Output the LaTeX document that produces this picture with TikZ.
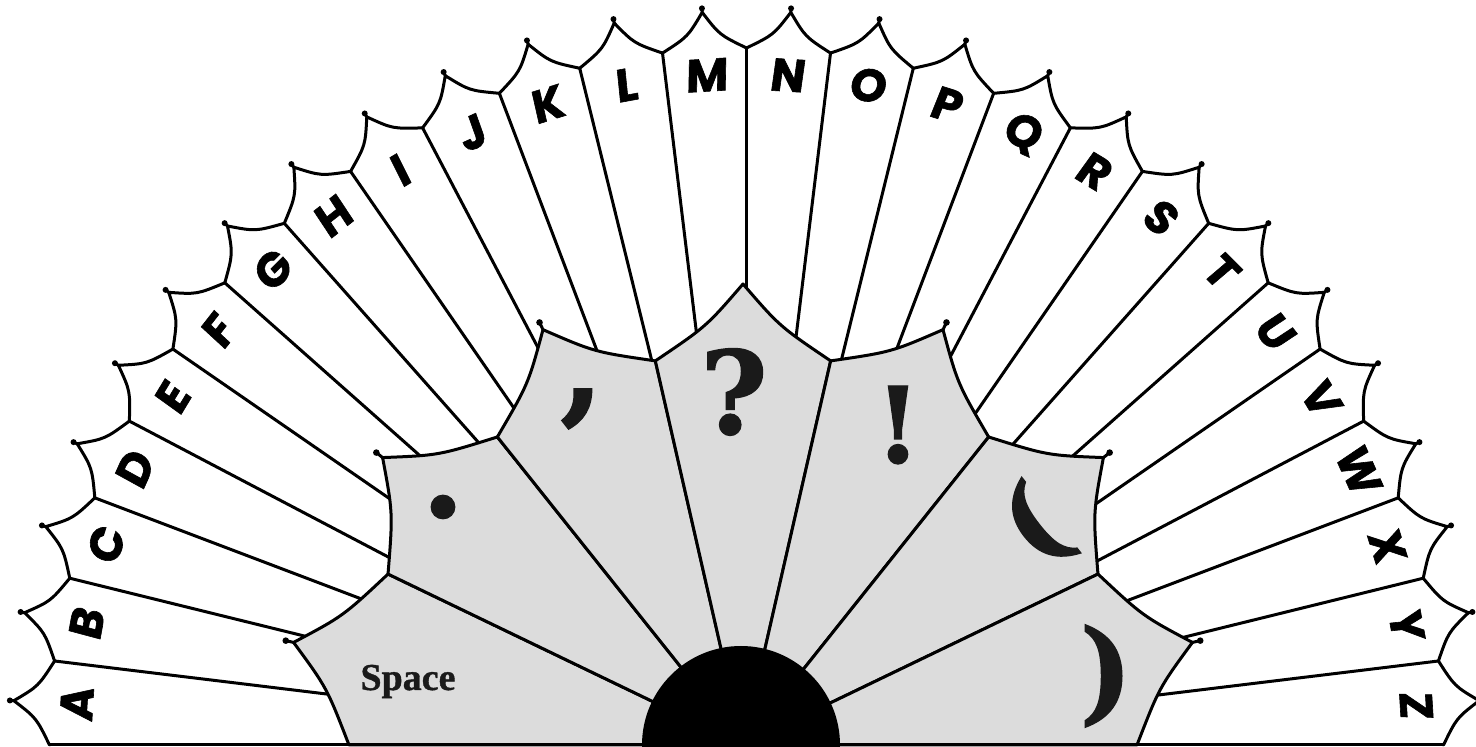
\documentclass[tikz,border=0pt]{standalone}
\usepackage{fontspec}
\newfontfamily\letterfont[FakeSlant=0.08, BoldFeatures={FakeBold=1.3}]{Poppins}
\newfontfamily\punctfont[BoldFeatures={FakeBold=1.2}]{DejaVu Serif}
\newfontfamily\spacefont[BoldFeatures={FakeBold=1.0}]{Liberation Serif}
\definecolor{petalgray}{HTML}{DCDCDC}
\definecolor{inkdark}{HTML}{1A1A1A}
\tikzset{
  edge/.style={line width=3pt, line join=round, line cap=round, draw=black},
  letterlabel/.style={font=\letterfont\bfseries\fontsize{46}{50}\selectfont, inner sep=0pt, text=black},
  punctlabel/.style={font=\punctfont\bfseries\fontsize{105}{110}\selectfont, inner sep=0pt, text=inkdark},
  spacelabel/.style={font=\spacefont\bfseries\fontsize{38}{40}\selectfont, inner sep=0pt, text=inkdark},
}
\begin{document}
\begin{tikzpicture}[x=1pt,y=1pt]
\useasboundingbox (0,0) rectangle (1476,747);
\fill[white] (0,0) rectangle (1476,747);
% ---------- outer letter petals ----------
\begin{scope}[shift={(746.5,2)}]
  \def\Rone{697}
  \def\Rtwo{734}
  \foreach \i in {1,...,25} {
    \pgfmathsetmacro\ta{180-\i*180/26}
    \draw[edge] (\ta:300) -- (\ta:\Rone);
  }
  \foreach \i in {0,...,25} {
    \pgfmathsetmacro\ta{180-\i*180/26}
    \pgfmathsetmacro\tb{180-(\i+1)*180/26}
    \pgfmathsetmacro\tm{(\ta+\tb)/2}
    \pgfmathsetmacro\ca{\tm+0.37*(\ta-\tm)}
    \pgfmathsetmacro\cb{\tm+0.37*(\tb-\tm)}
    \pgfmathsetmacro\rc{\Rone+0.37*(\Rtwo-\Rone)}
    \draw[edge] (\ta:\Rone) .. controls (\ca:\rc) .. (\tm:\Rtwo)
                .. controls (\cb:\rc) .. (\tb:\Rone);
    \draw[edge] (\tm:\Rtwo) -- (\tm:\Rtwo+4);
    \fill[black] (\tm:\Rtwo+4) circle (3.0);
  }
  \foreach \l [count=\k from 0] in {A,B,C,D,E,F,G,H,I,J,K,L,M,N,O,P,Q,R,S,T,U,V,W,X,Y,Z} {
    \pgfmathsetmacro\tm{180-(\k+0.5)*180/26}
    \pgfmathsetmacro\rot{\tm-90}
    \node[letterlabel, rotate=\rot] (L\k) at (\tm:671) {\l};
  }
\end{scope}
% ---------- inner gray petals ----------
\begin{scope}[shift={(743,2)}]
  \def\Rg{394}
  \def\Rgt{461}
  \foreach \j in {0,...,6} {
    \pgfmathsetmacro\ta{180-\j*180/7}
    \pgfmathsetmacro\tb{180-(\j+1)*180/7}
    \pgfmathsetmacro\tm{(\ta+\tb)/2}
    \pgfmathsetmacro\ca{\tm+0.39*(\ta-\tm)}
    \pgfmathsetmacro\cb{\tm+0.39*(\tb-\tm)}
    \pgfmathsetmacro\rc{\Rg+0.39*(\Rgt-\Rg)}
    \filldraw[edge, fill=petalgray] (0,0) -- (\ta:\Rg) .. controls (\ca:\rc) .. (\tm:\Rgt)
                .. controls (\cb:\rc) .. (\tb:\Rg) -- cycle;
  }
  \foreach \j in {0,...,6} {
    \pgfmathsetmacro\tm{180-(\j+0.5)*180/7}
    \ifnum\j=3\else
      \draw[edge] (\tm:\Rgt) -- (\tm:\Rgt+8);
      \fill[black] (\tm:\Rgt+8) circle (3.3);
    \fi
  }
\end{scope}
% ---------- hub and base line ----------
\fill[black] (741,2) circle (99);
\coordinate (baseL) at (49.5,2);
\coordinate (baseR) at (1443.5,2);
\draw[edge, line cap=butt] (baseL) -- (baseR);
% ---------- inner labels ----------
\node[spacelabel, anchor=base] (space) at (408,57) {Space};
\node[punctlabel, font=\punctfont\bfseries\fontsize{125}{130}\selectfont] (period) at (443,240) {.};
\node[punctlabel, font=\punctfont\bfseries\fontsize{125}{130}\selectfont] (comma) at (582,338) {,};
\node[punctlabel, font=\punctfont\bfseries\fontsize{115}{120}\selectfont] (question) at (734,355) {?};
\node[punctlabel] (exclam) at (898,322) {!};
\node[punctlabel, rotate=38] (lparen) at (1036,220) {(};
\node[punctlabel, font=\punctfont\bfseries\fontsize{112}{116}\selectfont] (rparen) at (1106,71) {)};
\end{tikzpicture}
\end{document}
